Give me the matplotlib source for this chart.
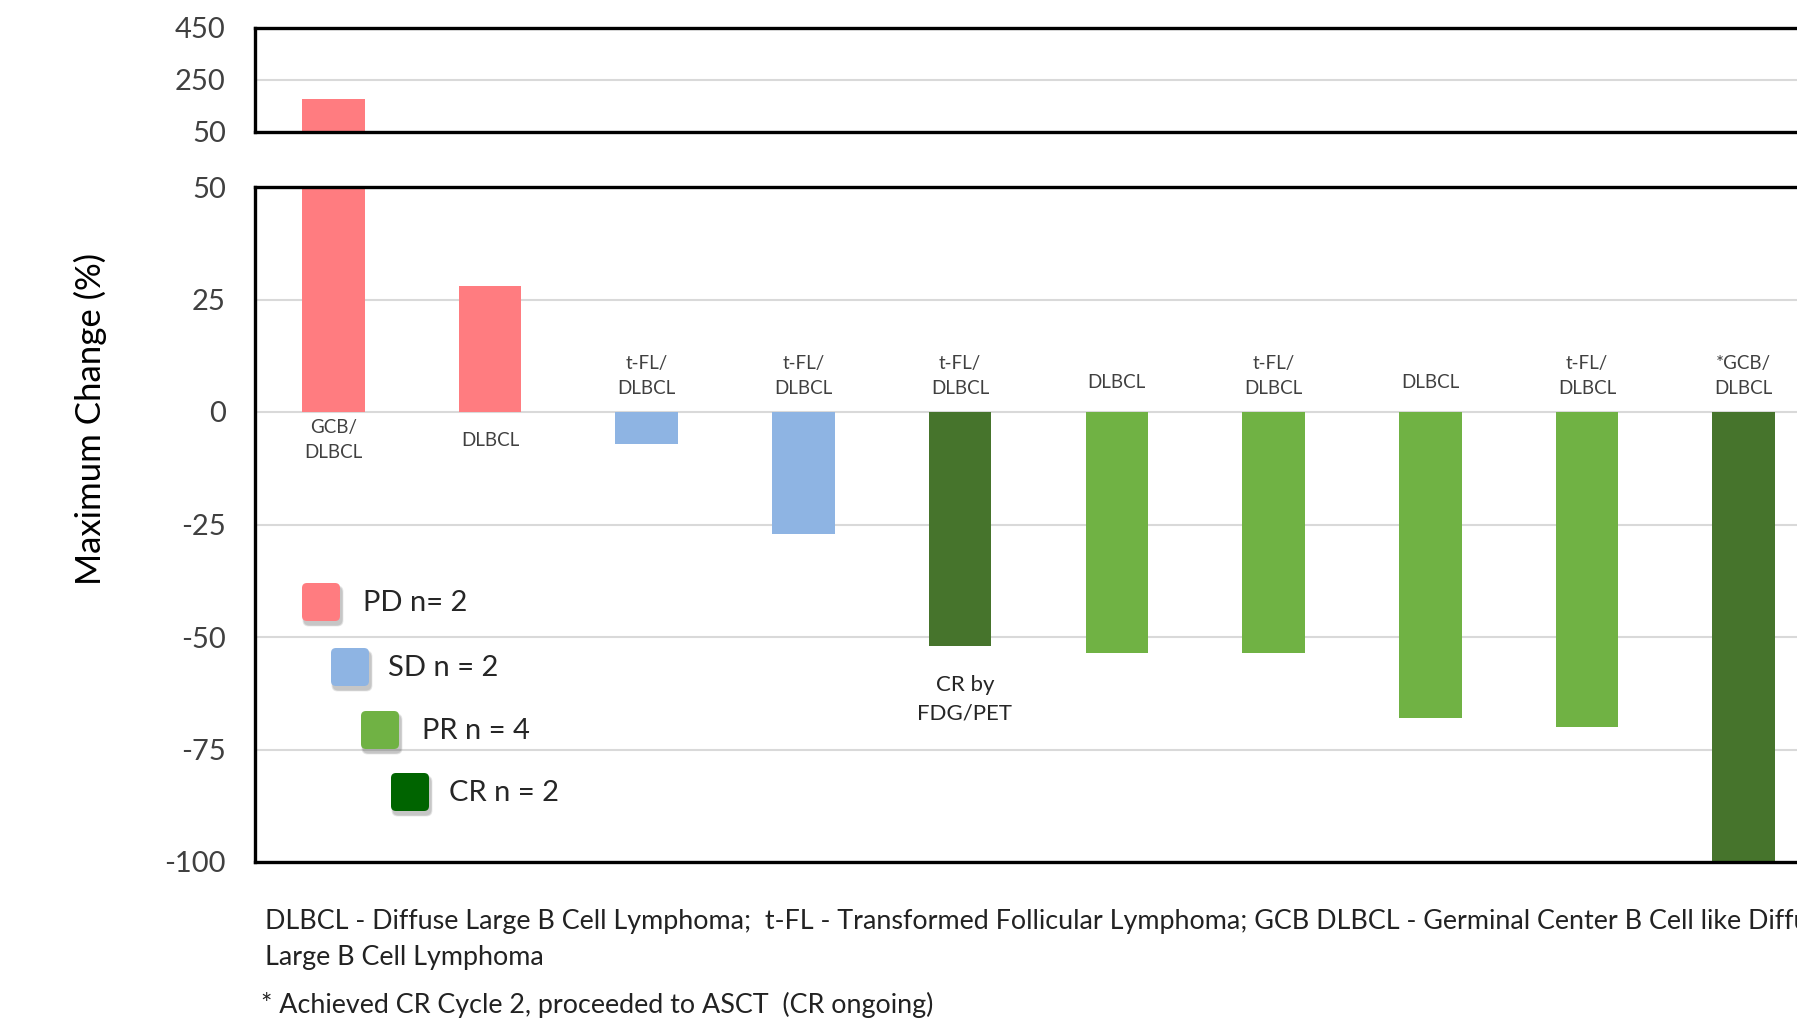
import matplotlib
matplotlib.use("Agg")
import matplotlib.pyplot as plt
from matplotlib.patches import FancyBboxPatch

# ---- data ----
subtypes = ["GCB/\nDLBCL", "DLBCL", "t-FL/\nDLBCL", "t-FL/\nDLBCL", "t-FL/\nDLBCL",
            "DLBCL", "t-FL/\nDLBCL", "DLBCL", "t-FL/\nDLBCL", "*GCB/\nDLBCL"]
responses = ["PD", "PD", "SD", "SD", "CR", "PR", "PR", "PR", "PR", "CR"]
max_change = [177, 28, -7, -27, -52, -53.5, -53.5, -68, -70, -100]
notes = {4: "CR by\nFDG/PET"}

legend_labels = ["PD n= 2", "SD n = 2", "PR n = 4", "CR n = 2"]
legend_keys = ["PD", "SD", "PR", "CR"]

top_ticks = [50, 250, 450]
bottom_ticks = [-100, -75, -50, -25, 0, 25, 50]

footnote_1 = ("DLBCL - Diffuse Large B Cell Lymphoma;  t-FL - Transformed Follicular Lymphoma; "
              "GCB DLBCL - Germinal Center B Cell like Diffuse")
footnote_2 = "Large B Cell Lymphoma"
footnote_3 = "* Achieved CR Cycle 2, proceeded to ASCT  (CR ongoing)"

# ---- styling ----
bar_colors = {"PD": "#FF7C80", "SD": "#8EB4E3", "PR": "#70B244", "CR": "#46742C"}
legend_colors = {"PD": "#FF7C80", "SD": "#8EB4E3", "PR": "#70B244", "CR": "#006400"}
FONT = ["Lato", "DejaVu Sans"]
plt.rcParams["font.family"] = FONT

W, H = 1797, 1028
DPI = 100
fig = plt.figure(figsize=(W / DPI, H / DPI), dpi=DPI)
fig.patch.set_facecolor("white")


def frac_box(left, top, right, bottom):
    """Pixel box -> figure-fraction rect."""
    return [left / W, 1 - bottom / H, (right - left) / W, (bottom - top) / H]


ax_left = 255
slot = 156.7
ax_right = ax_left + slot * len(max_change)

ax_top = fig.add_axes(frac_box(ax_left, 28, ax_right, 132))
ax_bot = fig.add_axes(frac_box(ax_left, 187, ax_right, 862))

x = list(range(len(max_change)))
colors = [bar_colors[r] for r in responses]
for ax in (ax_top, ax_bot):
    ax.bar(x, max_change, width=0.40, color=colors, zorder=3)
    ax.set_xlim(-0.5, len(max_change) - 0.5)
    ax.set_xticks([])
    ax.tick_params(axis="y", length=0, pad=21, labelsize=21, labelcolor="#404040")
    ax.grid(axis="y", color="#D9D9D9", linewidth=1.5, zorder=0)
    for s in ax.spines.values():
        s.set_linewidth(2.4)
        s.set_color("black")
        s.set_zorder(5)

ax_top.set_ylim(50, 450)
ax_top.set_yticks(top_ticks)
ax_bot.set_ylim(-100, 50)
ax_bot.set_yticks(bottom_ticks)
ax_bot.set_yticklabels([str(t) for t in bottom_ticks])

# subtype labels on the opposite side of zero from each bar
for i, (lab, v) in enumerate(zip(subtypes, max_change)):
    two_lines = "\n" in lab
    if v > 0:
        y = -6.3
    else:
        y = 8.0 if two_lines else 6.6
    ax_bot.text(i, y, lab, ha="center", va="center", fontsize=13.5,
                color="#404040", linespacing=1.55, zorder=6)

for i, txt in notes.items():
    ax_bot.text(i + 0.03, -63.8, txt, ha="center", va="center", fontsize=16,
                color="#262626", linespacing=1.55, zorder=6)

# y-axis title
fig.text(90 / W, 1 - 419 / H, "Maximum Change (%)", rotation=90, ha="center",
         va="center", fontsize=25, color="#000000")

# overlay in pixel units for the staggered legend
ov = fig.add_axes([0, 0, 1, 1], facecolor="none")
ov.set_xlim(0, W)
ov.set_ylim(H, 0)
ov.axis("off")

sq = 38
leg_x = [302, 331, 361, 391]
leg_y = [583, 648, 711, 773]
text_x = [363, 388, 422, 449]
for k, lab, lx, ly, tx in zip(legend_keys, legend_labels, leg_x, leg_y, text_x):
    for j, a in enumerate([0.10, 0.10, 0.12]):
        grow = 3 - j
        ov.add_patch(FancyBboxPatch((lx + 2 - grow / 2, ly + 4 - grow / 2), sq + grow, sq + grow,
                                    boxstyle="round,pad=0,rounding_size=6",
                                    facecolor="#404040", edgecolor="none", alpha=a, zorder=7))
    ov.add_patch(FancyBboxPatch((lx, ly), sq, sq, boxstyle="round,pad=0,rounding_size=5",
                                facecolor=legend_colors[k], edgecolor="none", zorder=8))
    ov.text(tx, ly + sq / 2 + 1, lab, ha="left", va="center", fontsize=21,
            color="#262626", zorder=9)

# footnotes
fig.text(265 / W, 1 - 921 / H, footnote_1, ha="left", va="center", fontsize=19.4, color="#222222")
fig.text(265 / W, 1 - 957 / H, footnote_2, ha="left", va="center", fontsize=19.4, color="#222222")
fig.text(261 / W, 1 - 1005 / H, footnote_3, ha="left", va="center", fontsize=19.4, color="#222222")

fig.savefig("out.png", dpi=DPI, facecolor="white")
